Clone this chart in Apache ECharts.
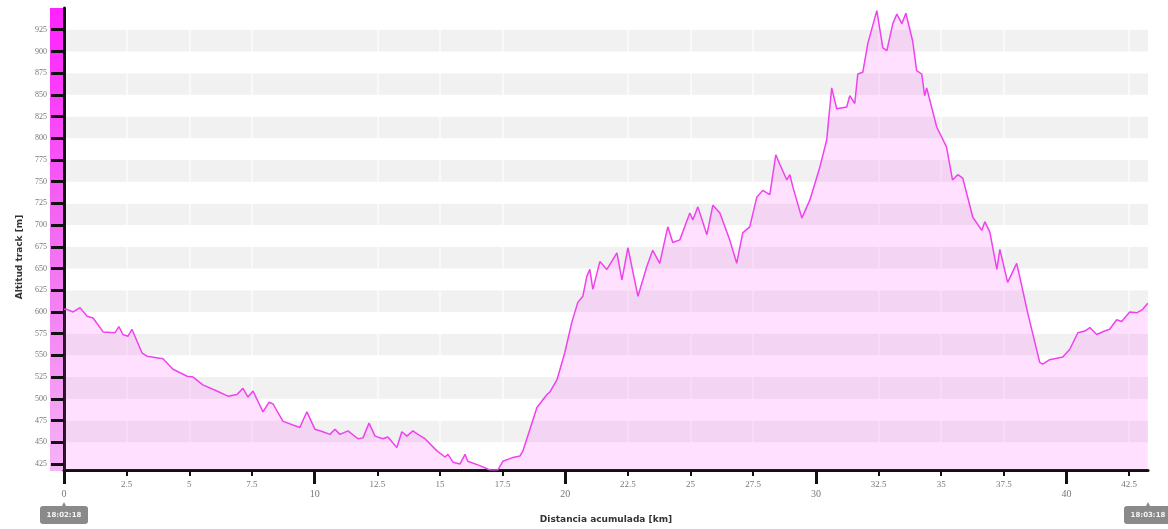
<!DOCTYPE html>
<html><head><meta charset="utf-8">
<script src="https://cdn.jsdelivr.net/npm/echarts@6/dist/echarts.min.js"></script>
<style>html,body{margin:0;padding:0;background:#fff}#c{width:1168px;height:529px}</style>
</head><body><div id="c"></div>
<script>
const distKm = [0,0.12,0.36,0.64,0.92,1.16,1.56,2.03,2.19,2.35,2.55,2.71,3.11,3.31,3.95,4.35,4.91,5.15,5.54,6.10,6.54,6.90,7.14,7.34,7.54,7.94,8.18,8.34,8.74,9.41,9.69,10.01,10.33,10.61,10.81,11.01,11.33,11.73,11.93,12.17,12.41,12.72,12.92,13.28,13.48,13.68,13.92,14.12,14.40,14.88,15.20,15.32,15.52,15.80,16.00,16.11,16.59,16.99,17.31,17.51,17.87,18.19,18.31,18.59,18.87,19.27,19.39,19.67,19.98,20.26,20.50,20.70,20.86,20.98,21.10,21.38,21.66,22.06,22.26,22.50,22.90,23.25,23.49,23.77,24.09,24.29,24.57,24.97,25.09,25.29,25.65,25.89,26.17,26.56,26.84,27.08,27.36,27.64,27.88,28.16,28.40,28.56,28.84,28.96,29.08,29.44,29.76,30.16,30.43,30.63,30.83,31.23,31.35,31.55,31.67,31.87,32.07,32.43,32.67,32.83,33.07,33.23,33.43,33.59,33.86,34.02,34.22,34.34,34.42,34.82,35.21,35.45,35.66,35.86,36.26,36.62,36.74,36.94,37.22,37.34,37.65,38.01,38.13,38.45,38.93,39.05,39.33,39.85,40.13,40.45,40.73,40.93,41.20,41.52,41.72,42.00,42.20,42.52,42.80,43.04,43.24];
const altM = [603,603,600,605,595,593,577,576,583,574,572,580,553,549,546,534,526,525,516,509,503,505,512,502,509,485,496,494,474,467,485,465,462,459,465,459,463,454,455,472,457,454,456,444,462,457,463,459,454,440,433,436,427,425,436,428,423,418,418,428,432,434,440,465,490,505,508,522,553,588,611,618,641,649,626,658,649,668,637,674,618,652,671,656,698,680,683,714,706,721,689,723,714,683,656,691,698,732,740,735,781,770,752,758,744,708,729,767,798,858,834,836,849,840,874,876,909,947,904,901,932,943,932,944,912,878,874,849,858,813,790,752,758,754,709,694,704,692,649,672,634,656,641,599,542,540,545,548,557,576,578,582,574,578,580,591,589,600,599,603,610];
const yTickValues = [425,450,475,500,525,550,575,600,625,650,675,700,725,750,775,800,825,850,875,900,925];
const xMajorTicks = [0,10,20,30,40];
const xMinorTicks = [2.5,5,7.5,12.5,15,17.5,22.5,25,27.5,32.5,35,37.5,42.5];
const timeLabels = ['18:02:18','18:03:18'];
const xAxisName = 'Distancia acumulada [km]';
const yAxisName = 'Altitud track [m]';

const chart = echarts.init(document.getElementById('c'), null, {renderer:'canvas'});
const seriesData = distKm.map((d,i)=>[d, altM[i]]);
const X_MAX = 43.25;
const tickFont = {fontSize:9, color:'#777', fontFamily:'Liberation Serif'};
const option = {
  animation:false,
  backgroundColor:'#fff',
  grid:{left:64, right:20, top:8, bottom:58},
  xAxis:[{
    type:'value', min:0, max:X_MAX, interval:2.5, position:'bottom',
    axisLine:{show:true, onZero:false, lineStyle:{color:'#111', width:3}},
    axisTick:{show:true, length:6, lineStyle:{color:'#111', width:2}, customValues:xMinorTicks},
    axisLabel:Object.assign({customValues:xMinorTicks, margin:10, formatter:v=>String(v)}, tickFont),
    splitLine:{show:true, lineStyle:{color:'rgba(255,255,255,0.6)', width:2}},
    name:xAxisName, nameLocation:'middle', nameGap:45,
    nameTextStyle:{fontWeight:'bold', fontSize:9, color:'#333', fontFamily:'DejaVu Sans'}
  },{
    type:'value', min:0, max:X_MAX, position:'bottom',
    axisLine:{show:false},
    axisTick:{show:true, length:14, lineStyle:{color:'#111', width:3}, customValues:xMajorTicks},
    axisLabel:Object.assign({customValues:xMajorTicks, margin:19, formatter:v=>String(v)}, tickFont, {fontSize:10}),
    splitLine:{show:false}
  }],
  yAxis:{
    type:'value', min:418, max:950, minInterval:25, maxInterval:25,
    axisLine:{show:true, lineStyle:{color:'#111', width:3}},
    axisTick:{show:true, length:13, lineStyle:{color:'#111', width:3}, customValues:yTickValues},
    axisLabel:Object.assign({customValues:yTickValues, margin:17, formatter:v=>String(v)}, tickFont, {fontSize:8}),
    splitLine:{show:false},
    splitArea:{show:true, areaStyle:{color:['#ffffff','#f1f1f1']}},
    name:yAxisName, nameLocation:'middle', nameGap:33,
    nameTextStyle:{fontWeight:'bold', fontSize:9, color:'#333', fontFamily:'DejaVu Sans', padding:[0,36,0,0]}
  },
  series:[{
    type:'line', data:seriesData, xAxisIndex:0, symbol:'none', showSymbol:false,
    lineStyle:{color:'#f040f0', width:1.5},
    areaStyle:{color:'rgba(255,40,255,0.2)'},
    z:3
  }]
};
chart.setOption(option);

const x0 = chart.convertToPixel({xAxisIndex:0}, 0);
const x1 = chart.convertToPixel({xAxisIndex:0}, X_MAX);
function timeBox(id, cx, txt){
  return {
    type:'group', id:id, x:cx, y:506, z:10,
    children:[
      {type:'polygon', shape:{points:[[-2,0],[2,0],[0,-4]]}, style:{fill:'#8a8a8a'}},
      {type:'rect', shape:{x:-24, y:0, width:48, height:18, r:3}, style:{fill:'#8a8a8a'}},
      {type:'text', x:0, y:9, style:{text:txt, fill:'#f4f4f4', fontSize:7, fontWeight:'bold', fontFamily:'DejaVu Sans', align:'center', verticalAlign:'middle'}}
    ]
  };
}
const colorBar = {
  type:'rect', id:'colorbar', z:-1, x:50, y:8,
  shape:{x:0, y:0, width:14, height:463},
  style:{fill:{type:'linear', x:0, y:0, x2:0, y2:1, colorStops:[
    {offset:0, color:'#ff22ff'},{offset:0.5, color:'#f26cf2'},{offset:1, color:'#f6b4f6'}]}}
};
chart.setOption({graphic:{elements:[colorBar, timeBox('t0', x0, timeLabels[0]), timeBox('t1', x1, timeLabels[1])]}});
</script>
</body></html>
